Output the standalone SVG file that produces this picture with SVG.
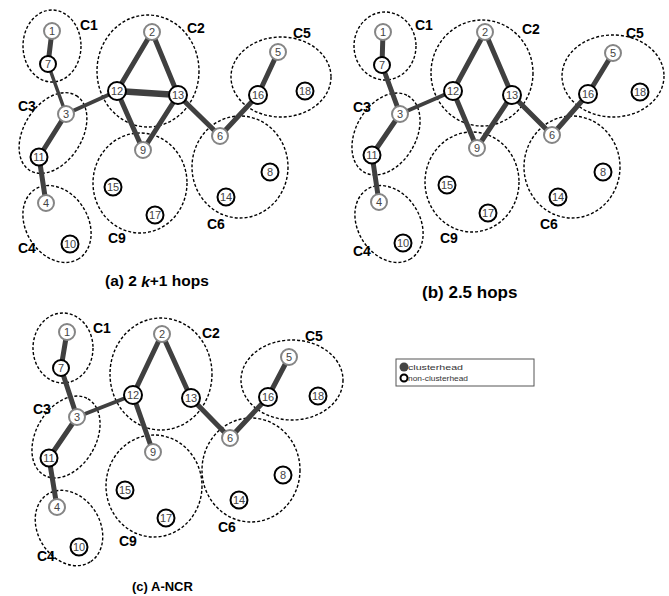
<svg xmlns="http://www.w3.org/2000/svg" width="669" height="596" viewBox="0 0 669 596">
<style>
.cl{fill:none;stroke:#000;stroke-width:1.4;stroke-dasharray:3 2}
.e{stroke:#404040;stroke-width:5;stroke-linecap:round;fill:none}
.ch circle{fill:#fff;stroke:#858585;stroke-width:2}
.nc circle{fill:#fff;stroke:#000;stroke-width:2}
.ch text,.nc text{font-family:"Liberation Sans",Arial,sans-serif;font-size:11px;fill:#444;text-anchor:middle}
.lb{font-family:"Liberation Sans",Arial,sans-serif;font-size:14px;font-weight:bold;fill:#000}
.cap{font-family:"Liberation Sans",Arial,sans-serif;font-weight:bold;fill:#000}
.lg{font-family:"Liberation Sans",Arial,sans-serif;font-size:8px;fill:#333}
</style>
<rect width="669" height="596" fill="#fff"/>

<!-- Panel (a) -->
<g id="panel-a">
 <g id="a-clusters">
  <ellipse class="cl" cx="52" cy="46" rx="29" ry="36"/>
  <ellipse class="cl" cx="148" cy="71" rx="51" ry="56"/>
  <ellipse class="cl" cx="0" cy="0" rx="44" ry="29" transform="translate(53,133) rotate(-58)"/>
  <ellipse class="cl" cx="0" cy="0" rx="41" ry="31" transform="translate(57,224) rotate(58)"/>
  <ellipse class="cl" cx="140" cy="183" rx="47" ry="50"/>
  <ellipse class="cl" cx="240" cy="167" rx="48" ry="51"/>
  <ellipse class="cl" cx="281" cy="77" rx="50" ry="40"/>
 </g>
 <g id="a-connectors">
  <line class="e" x1="52" y1="31" x2="48" y2="64"/>
  <line class="e" x1="48" y1="64" x2="66" y2="114" style="stroke-width:3.5"/>
  <line class="e" x1="66" y1="114" x2="117" y2="91" style="stroke-width:4"/>
  <line class="e" x1="117" y1="91" x2="152" y2="32"/>
  <line class="e" x1="152" y1="32" x2="178" y2="95"/>
  <line class="e" x1="117" y1="91" x2="178" y2="95" style="stroke-width:6.5"/>
  <line class="e" x1="117" y1="91" x2="143" y2="150"/>
  <line class="e" x1="178" y1="95" x2="143" y2="150"/>
  <line class="e" x1="178" y1="95" x2="220" y2="136"/>
  <line class="e" x1="220" y1="136" x2="258" y2="95"/>
  <line class="e" x1="258" y1="95" x2="278" y2="52"/>
  <line class="e" x1="66" y1="114" x2="39" y2="157"/>
  <line class="e" x1="39" y1="157" x2="46" y2="203"/>
 </g>
 <g id="a-n1" class="ch"><circle cx="52" cy="31" r="8"/><text x="52" y="35">1</text></g>
 <g id="a-n7" class="nc"><circle cx="48" cy="64" r="8"/><text x="48" y="68">7</text></g>
 <g id="a-n2" class="ch"><circle cx="152" cy="32" r="8"/><text x="152" y="36">2</text></g>
 <g id="a-n12" class="nc"><circle cx="117" cy="91" r="9"/><text x="117" y="95">12</text></g>
 <g id="a-n13" class="nc"><circle cx="178" cy="95" r="9"/><text x="178" y="99">13</text></g>
 <g id="a-n3" class="ch"><circle cx="66" cy="114" r="8"/><text x="66" y="118">3</text></g>
 <g id="a-n11" class="nc"><circle cx="39" cy="157" r="8.5"/><text x="39" y="161">11</text></g>
 <g id="a-n4" class="ch"><circle cx="46" cy="203" r="8"/><text x="46" y="207">4</text></g>
 <g id="a-n10" class="nc"><circle cx="70" cy="244" r="8.5"/><text x="70" y="248">10</text></g>
 <g id="a-n9" class="ch"><circle cx="143" cy="150" r="8"/><text x="143" y="154">9</text></g>
 <g id="a-n15" class="nc"><circle cx="113" cy="187" r="8.5"/><text x="113" y="191">15</text></g>
 <g id="a-n17" class="nc"><circle cx="155" cy="215" r="8.5"/><text x="155" y="219">17</text></g>
 <g id="a-n6" class="ch"><circle cx="220" cy="136" r="8"/><text x="220" y="140">6</text></g>
 <g id="a-n8" class="nc"><circle cx="270" cy="172" r="8.5"/><text x="270" y="176">8</text></g>
 <g id="a-n14" class="nc"><circle cx="226" cy="197" r="8.5"/><text x="226" y="201">14</text></g>
 <g id="a-n16" class="nc"><circle cx="258" cy="95" r="9"/><text x="258" y="99">16</text></g>
 <g id="a-n5" class="ch"><circle cx="278" cy="52" r="8"/><text x="278" y="56">5</text></g>
 <g id="a-n18" class="nc"><circle cx="305" cy="91" r="8.5"/><text x="305" y="95">18</text></g>
 <g id="a-labels">
  <text class="lb" x="80" y="30">C1</text>
  <text class="lb" x="187" y="33">C2</text>
  <text class="lb" x="293" y="38">C5</text>
  <text class="lb" x="18" y="111">C3</text>
  <text class="lb" x="18" y="253">C4</text>
  <text class="lb" x="108" y="243">C9</text>
  <text class="lb" x="207" y="229">C6</text>
  <text class="cap" x="105" y="286" font-size="15.5">(a) 2 <tspan font-style="italic" dy="1">k</tspan><tspan dy="-1">+1 hops</tspan></text>
 </g>
</g>

<!-- Panel (b) -->
<g id="panel-b">
 <g id="b-clusters">
  <ellipse class="cl" cx="385" cy="46" rx="31" ry="34"/>
  <ellipse class="cl" cx="482" cy="73" rx="51" ry="53"/>
  <ellipse class="cl" cx="0" cy="0" rx="44" ry="30" transform="translate(386,134) rotate(-60)"/>
  <ellipse class="cl" cx="0" cy="0" rx="41" ry="31" transform="translate(389,224) rotate(58)"/>
  <ellipse class="cl" cx="472" cy="182" rx="47" ry="50"/>
  <ellipse class="cl" cx="572" cy="167" rx="48" ry="51"/>
  <ellipse class="cl" cx="613" cy="76" rx="51" ry="41"/>
 </g>
 <g id="b-connectors">
  <line class="e" x1="383" y1="32" x2="382" y2="65"/>
  <line class="e" x1="382" y1="65" x2="400" y2="114"/>
  <line class="e" x1="400" y1="114" x2="453" y2="91" style="stroke-width:4"/>
  <line class="e" x1="453" y1="91" x2="485" y2="32"/>
  <line class="e" x1="485" y1="32" x2="512" y2="95"/>
  <line class="e" x1="453" y1="91" x2="477" y2="148"/>
  <line class="e" x1="512" y1="95" x2="477" y2="148"/>
  <line class="e" x1="512" y1="95" x2="552" y2="135"/>
  <line class="e" x1="552" y1="135" x2="588" y2="94"/>
  <line class="e" x1="588" y1="94" x2="613" y2="53"/>
  <line class="e" x1="400" y1="114" x2="372" y2="155"/>
  <line class="e" x1="372" y1="155" x2="379" y2="202"/>
 </g>
 <g id="b-n1" class="ch"><circle cx="383" cy="32" r="8"/><text x="383" y="36">1</text></g>
 <g id="b-n7" class="nc"><circle cx="382" cy="65" r="8"/><text x="382" y="69">7</text></g>
 <g id="b-n2" class="ch"><circle cx="485" cy="32" r="8"/><text x="485" y="36">2</text></g>
 <g id="b-n12" class="nc"><circle cx="453" cy="91" r="9"/><text x="453" y="95">12</text></g>
 <g id="b-n13" class="nc"><circle cx="512" cy="95" r="9"/><text x="512" y="99">13</text></g>
 <g id="b-n3" class="ch"><circle cx="400" cy="114" r="8"/><text x="400" y="118">3</text></g>
 <g id="b-n11" class="nc"><circle cx="372" cy="155" r="8.5"/><text x="372" y="159">11</text></g>
 <g id="b-n4" class="ch"><circle cx="379" cy="202" r="8"/><text x="379" y="206">4</text></g>
 <g id="b-n10" class="nc"><circle cx="403" cy="243" r="8.5"/><text x="403" y="247">10</text></g>
 <g id="b-n9" class="ch"><circle cx="477" cy="148" r="8"/><text x="477" y="152">9</text></g>
 <g id="b-n15" class="nc"><circle cx="447" cy="185" r="8.5"/><text x="447" y="189">15</text></g>
 <g id="b-n17" class="nc"><circle cx="488" cy="213" r="8.5"/><text x="488" y="217">17</text></g>
 <g id="b-n6" class="ch"><circle cx="552" cy="135" r="8"/><text x="552" y="139">6</text></g>
 <g id="b-n8" class="nc"><circle cx="603" cy="172" r="8.5"/><text x="603" y="176">8</text></g>
 <g id="b-n14" class="nc"><circle cx="558" cy="197" r="8.5"/><text x="558" y="201">14</text></g>
 <g id="b-n16" class="nc"><circle cx="588" cy="94" r="9"/><text x="588" y="98">16</text></g>
 <g id="b-n5" class="ch"><circle cx="613" cy="53" r="8"/><text x="613" y="57">5</text></g>
 <g id="b-n18" class="nc"><circle cx="640" cy="92" r="8.5"/><text x="640" y="96">18</text></g>
 <g id="b-labels">
  <text class="lb" x="415" y="30">C1</text>
  <text class="lb" x="522" y="34">C2</text>
  <text class="lb" x="626" y="38">C5</text>
  <text class="lb" x="353" y="112">C3</text>
  <text class="lb" x="353" y="256">C4</text>
  <text class="lb" x="440" y="243">C9</text>
  <text class="lb" x="540" y="229">C6</text>
  <text class="cap" x="422" y="298" font-size="17">(b) 2.5 hops</text>
 </g>
</g>

<!-- Panel (c) -->
<g id="panel-c">
 <g id="c-clusters">
  <ellipse class="cl" cx="63" cy="348" rx="30" ry="35"/>
  <ellipse class="cl" cx="161" cy="374" rx="51" ry="56"/>
  <ellipse class="cl" cx="0" cy="0" rx="44" ry="30" transform="translate(66,437) rotate(-60)"/>
  <ellipse class="cl" cx="0" cy="0" rx="40" ry="31" transform="translate(69,528) rotate(58)"/>
  <ellipse class="cl" cx="154" cy="486" rx="48" ry="51"/>
  <ellipse class="cl" cx="251" cy="470" rx="49" ry="52"/>
  <ellipse class="cl" cx="292" cy="380" rx="51" ry="40"/>
 </g>
 <g id="c-connectors">
  <line class="e" x1="67" y1="332" x2="61" y2="368"/>
  <line class="e" x1="61" y1="368" x2="77" y2="417"/>
  <line class="e" x1="77" y1="417" x2="133" y2="395" style="stroke-width:4"/>
  <line class="e" x1="133" y1="395" x2="162" y2="334"/>
  <line class="e" x1="162" y1="334" x2="191" y2="398"/>
  <line class="e" x1="133" y1="395" x2="153" y2="452"/>
  <line class="e" x1="191" y1="398" x2="230" y2="438"/>
  <line class="e" x1="230" y1="438" x2="268" y2="397"/>
  <line class="e" x1="268" y1="397" x2="289" y2="357"/>
  <line class="e" x1="77" y1="417" x2="49" y2="458"/>
  <line class="e" x1="49" y1="458" x2="57" y2="507"/>
 </g>
 <g id="c-n1" class="ch"><circle cx="67" cy="332" r="8"/><text x="67" y="336">1</text></g>
 <g id="c-n7" class="nc"><circle cx="61" cy="368" r="8"/><text x="61" y="372">7</text></g>
 <g id="c-n2" class="ch"><circle cx="162" cy="334" r="8"/><text x="162" y="338">2</text></g>
 <g id="c-n12" class="nc"><circle cx="133" cy="395" r="9"/><text x="133" y="399">12</text></g>
 <g id="c-n13" class="nc"><circle cx="191" cy="398" r="9"/><text x="191" y="402">13</text></g>
 <g id="c-n3" class="ch"><circle cx="77" cy="417" r="8"/><text x="77" y="421">3</text></g>
 <g id="c-n11" class="nc"><circle cx="49" cy="458" r="8.5"/><text x="49" y="462">11</text></g>
 <g id="c-n4" class="ch"><circle cx="57" cy="507" r="8"/><text x="57" y="511">4</text></g>
 <g id="c-n10" class="nc"><circle cx="79" cy="547" r="8.5"/><text x="79" y="551">10</text></g>
 <g id="c-n9" class="ch"><circle cx="153" cy="452" r="8"/><text x="153" y="456">9</text></g>
 <g id="c-n15" class="nc"><circle cx="125" cy="490" r="8.5"/><text x="125" y="494">15</text></g>
 <g id="c-n17" class="nc"><circle cx="166" cy="518" r="8.5"/><text x="166" y="522">17</text></g>
 <g id="c-n6" class="ch"><circle cx="230" cy="438" r="8"/><text x="230" y="442">6</text></g>
 <g id="c-n8" class="nc"><circle cx="283" cy="475" r="8.5"/><text x="283" y="479">8</text></g>
 <g id="c-n14" class="nc"><circle cx="239" cy="500" r="8.5"/><text x="239" y="504">14</text></g>
 <g id="c-n16" class="nc"><circle cx="268" cy="397" r="9"/><text x="268" y="401">16</text></g>
 <g id="c-n5" class="ch"><circle cx="289" cy="357" r="8"/><text x="289" y="361">5</text></g>
 <g id="c-n18" class="nc"><circle cx="318" cy="396" r="8.5"/><text x="318" y="400">18</text></g>
 <g id="c-labels">
  <text class="lb" x="93" y="333">C1</text>
  <text class="lb" x="202" y="338">C2</text>
  <text class="lb" x="305" y="341">C5</text>
  <text class="lb" x="33" y="414">C3</text>
  <text class="lb" x="37" y="561">C4</text>
  <text class="lb" x="119" y="546">C9</text>
  <text class="lb" x="218" y="532">C6</text>
  <text class="cap" x="132" y="591" font-size="13">(c) A-NCR</text>
 </g>
</g>

<!-- Legend -->
<g id="legend">
 <rect x="396" y="359" width="138" height="27" fill="#fff" stroke="#555" stroke-width="1"/>
 <circle cx="404" cy="367" r="4.5" fill="#444"/>
 <text class="lg" x="408" y="370" textLength="55" lengthAdjust="spacingAndGlyphs">clusterhead</text>
 <circle cx="404" cy="378" r="3.5" fill="#fff" stroke="#000" stroke-width="2"/>
 <text class="lg" x="408" y="381" textLength="60" lengthAdjust="spacingAndGlyphs">non-clusterhead</text>
</g>
</svg>
